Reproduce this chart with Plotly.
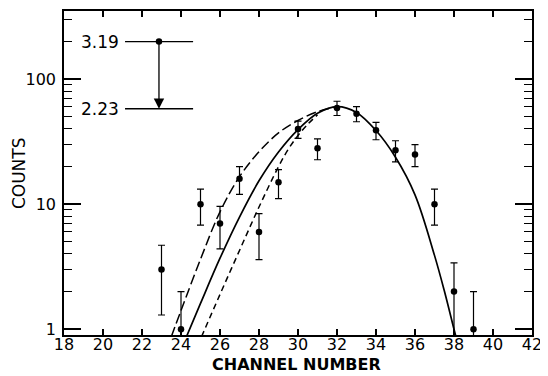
import math
import plotly.graph_objects as go

# ---- data ----
channels = [23, 24, 25, 26, 27, 28, 29, 30, 31, 32, 33, 34, 35, 36, 37, 38, 39]
counts = [3, 1, 10, 7, 16, 6, 15, 40, 28, 59, 53, 39, 27, 25, 10, 2, 1]
err_plus = [1.7, 1.0, 3.2, 2.6, 4.0, 2.4, 3.9, 6.3, 5.3, 7.7, 7.3, 6.2, 5.2, 5.0, 3.2, 1.4, 1.0]
err_minus = [1.7, 0.6, 3.2, 2.6, 4.0, 2.4, 3.9, 6.3, 5.3, 7.7, 7.3, 6.2, 5.2, 5.0, 3.2, 1.4, 0.6]

solid_x = [24.25, 25, 26, 27, 28, 29, 30, 31, 32, 33, 34, 35, 36, 37, 37.5, 38.0, 38.1]
solid_y = [0.85, 1.61, 3.70, 7.9, 15.4, 26.2, 39.6, 53.5, 60.5, 54.3, 38.9, 23.8, 11.9, 3.9, 2.04, 1.0, 0.87]

long_x = [23.5, 24, 25, 26, 27, 28, 29, 30, 31, 32]
long_y = [0.87, 1.41, 3.63, 8.7, 16.6, 26.3, 37.2, 46.8, 55.0, 60.3]

short_x = [25.05, 26, 27, 28, 29, 29.5, 30, 30.5, 31]
short_y = [0.87, 1.9, 4.27, 9.5, 20.0, 27.5, 35.5, 43.6, 52.0]

x_ticks = list(range(18, 43, 2))
y_major = [1, 10, 100]
y_minor = [2, 3, 4, 5, 6, 7, 8, 9, 20, 30, 40, 50, 60, 70, 80, 90, 200, 300]

x_title = "CHANNEL NUMBER"
y_title = "COUNTS"

inset_labels = ["3.19", "2.23"]
inset_levels = [200, 58]
inset_x = [21.13, 24.62]
inset_arrow_x = 22.87

FONT = "DejaVu Sans"

fig = go.Figure()

fig.add_trace(go.Scatter(x=long_x, y=long_y, mode="lines", line_shape="spline",
                         line=dict(color="black", width=1.5, dash="10px,4px"), hoverinfo="skip"))
fig.add_trace(go.Scatter(x=short_x, y=short_y, mode="lines", line_shape="spline",
                         line=dict(color="black", width=1.5, dash="6px,4px"), hoverinfo="skip"))
fig.add_trace(go.Scatter(x=solid_x, y=solid_y, mode="lines", line_shape="spline",
                         line=dict(color="black", width=1.7), hoverinfo="skip"))

fig.add_trace(go.Scatter(
    x=channels, y=counts, mode="markers",
    marker=dict(color="black", size=6.5),
    error_y=dict(type="data", symmetric=False, array=err_plus, arrayminus=err_minus,
                 color="black", thickness=1.2, width=3.5),
))

# inset level diagram
for lvl in inset_levels:
    fig.add_trace(go.Scatter(x=inset_x, y=[lvl, lvl], mode="lines",
                             line=dict(color="black", width=1.4), hoverinfo="skip"))
fig.add_trace(go.Scatter(x=[inset_arrow_x], y=[inset_levels[0]], mode="markers",
                         marker=dict(color="black", size=6.5), hoverinfo="skip"))
fig.add_annotation(x=inset_arrow_x, y=math.log10(inset_levels[1]),
                   ax=inset_arrow_x, ay=math.log10(inset_levels[0]),
                   xref="x", yref="y", axref="x", ayref="y",
                   showarrow=True, arrowhead=2, arrowsize=1.6, arrowwidth=1.3,
                   arrowcolor="black", text="")
for lab, lvl in zip(inset_labels, inset_levels):
    fig.add_annotation(x=inset_x[0], y=math.log10(lvl), xref="x", yref="y",
                       text=lab, showarrow=False, xanchor="right", xshift=-4,
                       font=dict(family=FONT, size=17, color="black"))

# axis titles
fig.add_annotation(text=x_title, xref="paper", yref="paper", x=0.496, y=-0.1245,
                   xanchor="center", yanchor="bottom", showarrow=False, borderpad=0,
                   font=dict(family=FONT, size=16, color="black", weight="bold"))
fig.add_annotation(text=y_title, xref="paper", yref="paper", x=-0.096, y=0.5,
                   xanchor="center", yanchor="middle", textangle=-90, showarrow=False,
                   font=dict(family=FONT, size=17, color="black"))

# page body adds an 8px margin, so the figure is 8px smaller than the window
fig.update_layout(
    width=540, height=368,
    margin=dict(l=56, r=16, t=3, b=41),
    paper_bgcolor="white", plot_bgcolor="white",
    showlegend=False,
    font=dict(family=FONT, size=16, color="black"),
)
fig.update_xaxes(
    range=[18, 42], tickvals=x_ticks, ticks="inside", ticklen=6, tickwidth=1.5,
    tickcolor="black", showline=True, linecolor="black", linewidth=1.6, mirror="ticks",
    showgrid=False, zeroline=False, automargin=False, ticklabelstandoff=-6,
    tickfont=dict(family=FONT, size=16),
)
fig.update_yaxes(
    type="log", range=[-0.046, 2.546], tickvals=y_major, ticktext=[str(v) for v in y_major],
    ticks="inside", ticklen=17, tickwidth=1.5, tickcolor="black",
    minor=dict(tickvals=y_minor, ticks="inside", ticklen=8, tickwidth=1.2, tickcolor="black",
               showgrid=False),
    showline=True, linecolor="black", linewidth=1.6, mirror="ticks",
    showgrid=False, zeroline=False, automargin=False, ticklabelstandoff=3,
    tickfont=dict(family=FONT, size=16),
)

fig.write_html("out.html")
